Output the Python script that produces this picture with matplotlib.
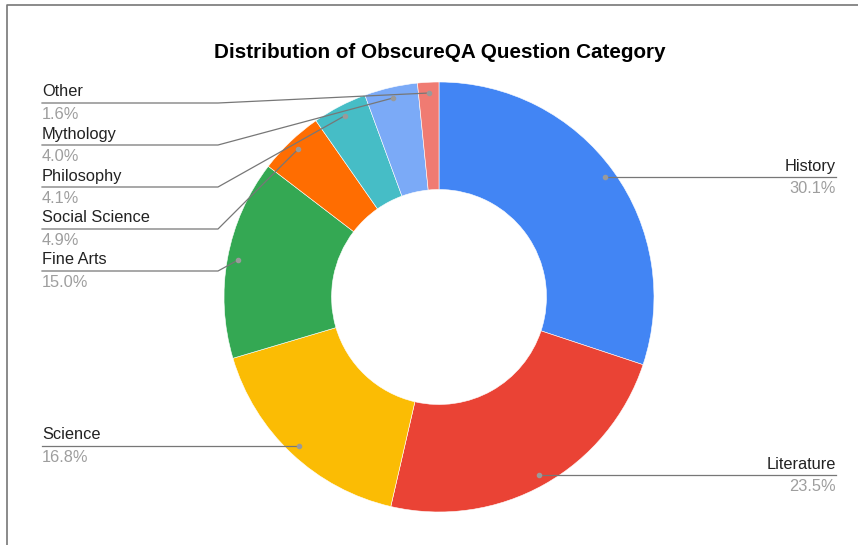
import numpy as np
import matplotlib
matplotlib.use("Agg")
import matplotlib.pyplot as plt

categories = ["History", "Literature", "Science", "Fine Arts", "Social Science",
              "Philosophy", "Mythology", "Other"]
values = [30.1, 23.5, 16.8, 15.0, 4.9, 4.1, 4.0, 1.6]
colors = ["#4285F4", "#EA4335", "#FBBC04", "#34A853", "#FF6D01",
          "#46BDC6", "#7BAAF7", "#F07B72"]
title = "Distribution of ObscureQA Question Category"

W, H = 858, 545
plt.rcParams['font.family'] = ['Liberation Sans', 'DejaVu Sans']
fig = plt.figure(figsize=(W / 100, H / 100), dpi=100)
ax = fig.add_axes([0, 0, 1, 1])
ax.set_xlim(0, W)
ax.set_ylim(0, H)
ax.axis('off')

cx, cy, R = 439, H - 297, 215
wedges, _ = ax.pie(values, colors=colors, startangle=90, counterclock=False,
                   center=(cx, cy), radius=R,
                   wedgeprops=dict(width=R * 0.5, edgecolor='white', linewidth=0.4))
ax.set_xlim(0, W)
ax.set_ylim(0, H)

# figure border (left and top)
ax.plot([7, 7, W], [0, H - 5, H - 5], color='#777777', lw=1.2, clip_on=False)

ax.text(440, H - 52, title, ha='center', va='center', fontsize=14.9,
        fontweight='bold', color='#000000')

name_c, pct_c, line_c, dot_c = '#222222', '#9e9e9e', '#777777', '#9a9a9a'
fs = 11.8

# left-side stacked rows (layout) for the small slices
left_rows = {"Other": 103, "Mythology": 145, "Philosophy": 187,
             "Social Science": 229, "Fine Arts": 271}

total = sum(values)
cum = 0.0
for name, v in zip(categories, values):
    mid = cum + v / 2
    cum += v
    ang = np.deg2rad(90 - 360 * mid / total)
    dx, dy = cx + 0.95 * R * np.cos(ang), cy + 0.95 * R * np.sin(ang)
    ax.plot([dx], [dy], 'o', ms=3, color=dot_c, zorder=5)
    pct = f"{v:.1f}%"
    if name in left_rows:
        ly = H - left_rows[name]
        ax.plot([42, 218, dx], [ly, ly, dy], color=line_c, lw=0.9, zorder=4)
        ax.text(42, ly + 3.5, name, ha='left', va='bottom', fontsize=fs, color=name_c)
        ax.text(42, ly - 4, pct, ha='left', va='top', fontsize=fs, color=pct_c)
    elif dx < cx:
        ax.plot([42, dx], [dy, dy], color=line_c, lw=0.9, zorder=4)
        ax.text(42, dy + 3.5, name, ha='left', va='bottom', fontsize=fs, color=name_c)
        ax.text(42, dy - 4, pct, ha='left', va='top', fontsize=fs, color=pct_c)
    else:
        ax.plot([dx, 836], [dy, dy], color=line_c, lw=0.9, zorder=4)
        ax.text(836, dy + 3.5, name, ha='right', va='bottom', fontsize=fs, color=name_c)
        ax.text(836, dy - 4, pct, ha='right', va='top', fontsize=fs, color=pct_c)

fig.savefig("out.png", dpi=100)
